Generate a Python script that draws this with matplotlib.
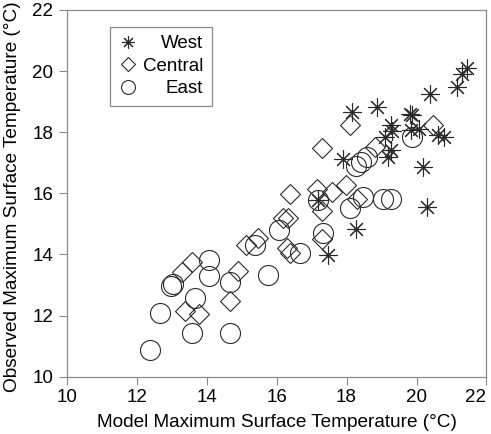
import matplotlib
matplotlib.use('Agg')
import matplotlib.pyplot as plt
from matplotlib.lines import Line2D

plt.rcParams['font.family'] = ['Liberation Sans', 'DejaVu Sans']

# West (asterisks)
west_x = [21.45, 21.29, 21.17, 20.38, 18.15, 18.87, 19.81, 19.87, 19.83, 20.07,
          19.26, 19.29, 19.09, 20.62, 20.78, 19.27, 19.19, 17.89, 20.19, 17.19,
          20.29, 18.28, 17.48]
west_y = [20.09, 19.90, 19.49, 19.24, 18.66, 18.81, 18.61, 18.56, 18.07, 18.09,
          18.24, 18.04, 17.83, 17.91, 17.85, 17.42, 17.18, 17.11, 16.87, 15.78,
          15.55, 14.83, 13.99]

# Central (diamonds)
central_x = [18.09, 20.47, 17.29, 18.81, 17.98, 16.38, 17.15, 17.59, 18.29, 17.29,
             16.19, 16.33, 17.29, 16.29, 16.38, 15.14, 15.47, 13.57, 13.29, 14.90,
             14.67, 13.38, 13.79]
central_y = [18.24, 18.25, 17.49, 17.53, 16.26, 15.98, 16.13, 16.05, 15.83, 15.41,
             15.19, 15.20, 14.50, 14.21, 14.04, 14.31, 14.53, 13.76, 13.44, 13.46,
             12.47, 12.14, 12.06]

# East (circles)
east_x = [19.88, 18.27, 18.42, 18.58, 17.19, 18.47, 18.09, 19.05, 19.26, 16.07,
          17.33, 16.67, 15.37, 14.07, 14.07, 13.05, 12.98, 15.76, 14.67, 13.67,
          12.67, 13.57, 14.67, 12.38]
east_y = [17.84, 16.90, 17.04, 17.19, 15.78, 15.87, 15.51, 15.81, 15.81, 14.80,
          14.70, 14.06, 14.30, 13.82, 13.28, 13.04, 12.97, 13.34, 13.11, 12.56,
          12.07, 11.44, 11.44, 10.87]

labels = ['West', 'Central', 'East']
ticks = [10, 12, 14, 16, 18, 20, 22]

ink = '#2a2a2a'
frame = '#8a8a8a'
fs = 13.5
fs_lab = 13.7

fig = plt.figure(figsize=(4.91, 4.34), dpi=100)
ax = fig.add_axes([0.1358, 0.132, 0.855, 0.845])

ax.plot(east_x, east_y, linestyle='none', marker='o', markersize=14.4,
        markerfacecolor='none', markeredgecolor=ink, markeredgewidth=0.8)
ax.plot(central_x, central_y, linestyle='none', marker='D', markersize=10.2,
        markerfacecolor='none', markeredgecolor=ink, markeredgewidth=0.8)
ax.plot(west_x, west_y, linestyle='none', marker=(8, 2, 0), markersize=13,
        markeredgecolor=ink, markeredgewidth=0.8)

ax.set_xlim(10, 22)
ax.set_ylim(10, 22)
ax.set_xticks(ticks)
ax.set_yticks(ticks)
ax.tick_params(direction='out', length=5.5, width=0.8, color=frame,
               labelsize=fs, labelcolor='black', top=False, right=False)
ax.tick_params(axis='x', pad=3)
ax.tick_params(axis='y', pad=4)
# keep the last x label inside the figure
ax.get_xticklabels()[-1].set_ha('right')
for s in ax.spines.values():
    s.set_color(frame)
    s.set_linewidth(0.9)

ax.set_xlabel('Model Maximum Surface Temperature (°C)', fontsize=fs_lab, labelpad=6)
ax.set_ylabel('Observed Maximum Surface Temperature (°C)', fontsize=fs_lab, labelpad=8)
ax.yaxis.label.set_y(0.49)  # so the long label fits in the figure

handles = [
    Line2D([], [], linestyle='none', marker=(8, 2, 0), markersize=9,
           markeredgecolor=ink, markeredgewidth=0.8),
    Line2D([], [], linestyle='none', marker='D', markersize=7,
           markerfacecolor='none', markeredgecolor=ink, markeredgewidth=0.8),
    Line2D([], [], linestyle='none', marker='o', markersize=10,
           markerfacecolor='none', markeredgecolor=ink, markeredgewidth=0.8),
]
leg = ax.legend(handles, labels, loc='upper left',
                bbox_to_anchor=(0.103, 0.954), borderaxespad=0, fontsize=fs,
                frameon=True, fancybox=False, edgecolor=frame, framealpha=1,
                borderpad=0.45, labelspacing=0.28, handlelength=1.0,
                handletextpad=0.3)
leg.get_frame().set_linewidth(0.9)

# right-align the legend labels: shift the shorter ones
renderer = fig.canvas.get_renderer()
widths = [t.get_window_extent(renderer).width for t in leg.get_texts()]
for t, w in zip(leg.get_texts(), widths):
    t.set_position((max(widths) - w, 0))

fig.savefig('out.png', dpi=100)
